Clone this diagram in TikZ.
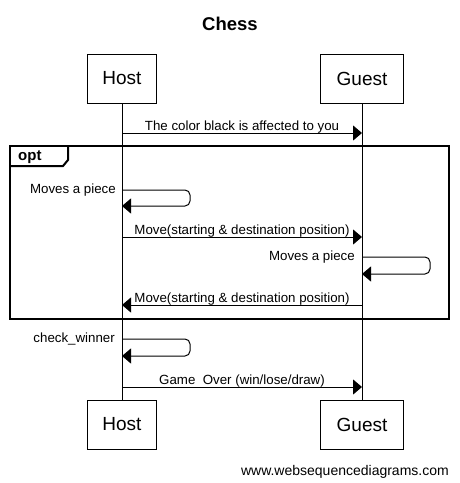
\documentclass[tikz,border=0pt]{standalone}
\usepackage{fontspec}
\setmainfont{Liberation Sans}
\usetikzlibrary{arrows.meta}

\begin{document}
\begin{tikzpicture}[x=1pt,y=-1pt,
		actor/.style={draw,line width=1pt,minimum height=49pt,inner sep=0pt,font=\fontsize{19}{22}\selectfont},
		msg/.style={line width=1pt,-{Triangle[length=9pt,width=15pt]}},
		lbl/.style={font=\fontsize{13.3}{15}\selectfont,inner sep=0pt}]
				\useasboundingbox (0,0) rectangle (459,483);
				\node[font=\bfseries\fontsize{18.5}{22}\selectfont,anchor=base] (title) at (230,30) {Chess};
				\node[actor,minimum width=69pt] (hosttop) at (122,78.5) {Host};
				\node[actor,minimum width=83pt] (guesttop) at (362,78.5) {Guest};
				\node[actor,minimum width=69pt] (hostbot) at (122,424.5) {Host};
				\node[actor,minimum width=83pt] (guestbot) at (362,424.5) {Guest};
				\draw[line width=1pt] (hosttop) -- (hostbot);
				\draw[line width=1pt] (guesttop) -- (guestbot);
				\coordinate (h1) at (122,133);
				\coordinate (g1) at (362,133);
				\coordinate (h2) at (122,190);
				\coordinate (h3) at (122,206);
				\coordinate (h4) at (122,237);
				\coordinate (g4) at (362,237);
				\coordinate (g5) at (362,257);
				\coordinate (g6) at (362,274);
				\coordinate (h7) at (122,305);
				\coordinate (g7) at (362,305);
				\coordinate (h8) at (122,339);
				\coordinate (h9) at (122,356);
				\coordinate (h10) at (122,387);
				\coordinate (g10) at (362,387);
				\draw[msg] (h1) -- (g1) node[lbl,midway,anchor=base,yshift=3pt] {The color black is affected to you};
				\draw[line width=2pt] (10,146) rectangle (449,319);
				\draw[line width=2pt] (10,166) -- (63,166) -- (68,160) -- (68,146);
				\node[font=\bfseries\fontsize{15}{17}\selectfont,anchor=base west,inner sep=0pt] (optlabel) at (18,160) {opt};
				\draw[msg,rounded corners=5pt] (h2) -- ++(68,0) -- ++(0,16) -- (h3);
				\node[lbl,anchor=east,xshift=-6pt] (hmove) at (h2) {Moves a piece};
				\draw[msg] (h4) -- (g4) node[lbl,midway,anchor=base,yshift=3pt] {Move(starting \& destination position)};
				\draw[msg,rounded corners=5pt] (g5) -- ++(68,0) -- ++(0,17) -- (g6);
				\node[lbl,anchor=east,xshift=-7pt] (gmove) at (g5) {Moves a piece};
				\draw[msg] (g7) -- (h7) node[lbl,midway,anchor=base,yshift=3pt] {Move(starting \& destination position)};
				\draw[msg,rounded corners=5pt] (h8) -- ++(68,0) -- ++(0,17) -- (h9);
				\node[lbl,anchor=east,xshift=-7pt] (check) at (h8) {check\_winner};
				\draw[msg] (h10) -- (g10) node[lbl,midway,anchor=base,yshift=3pt] {Game\ \ Over (win/lose/draw)};
				\node[font=\fontsize{14}{16}\selectfont,anchor=base east,inner sep=0pt] (footer) at (449,475) {www.websequencediagrams.com};
			\end{tikzpicture}
\end{document}
